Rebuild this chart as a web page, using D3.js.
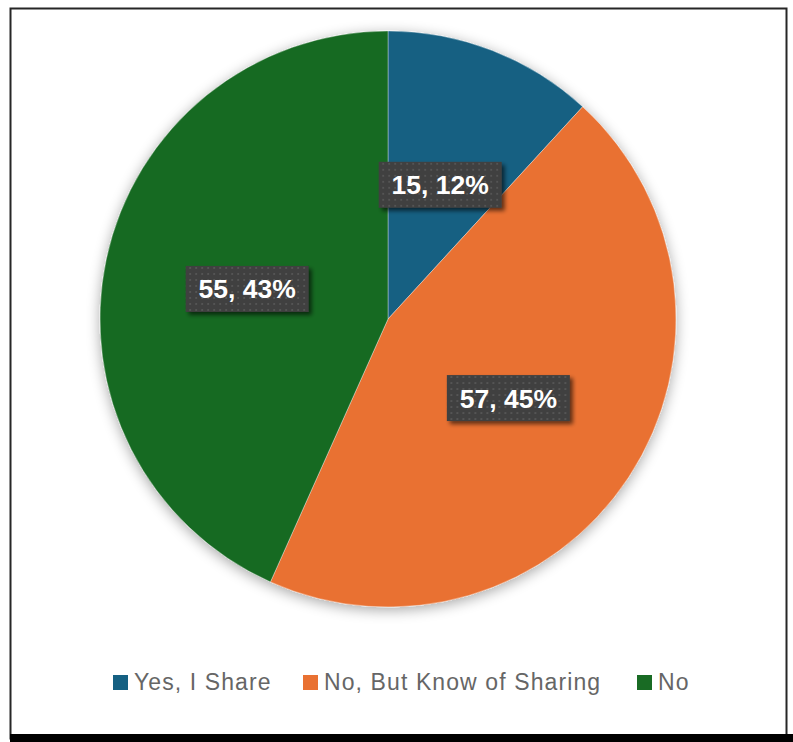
<!DOCTYPE html>
<html><head><meta charset="utf-8">
<script src="https://cdn.jsdelivr.net/npm/d3@7"></script>
<style>html,body{margin:0;padding:0;background:#fff;}svg{display:block;}</style>
</head><body>
<script>
const categories = ["Yes, I Share", "No, But Know of Sharing", "No"];
const values = [15, 57, 55];
const colors = ["#156082", "#E97132", "#196B24"];

const W = 793, H = 742;
const svg = d3.select("body").append("svg").attr("width", W).attr("height", H);
const defs = svg.append("defs");

const pieShadow = defs.append("filter").attr("id","pieShadow").attr("x","-20%").attr("y","-20%").attr("width","140%").attr("height","140%");
pieShadow.append("feGaussianBlur").attr("in","SourceAlpha").attr("stdDeviation",7).attr("result","b");
pieShadow.append("feOffset").attr("in","b").attr("dx",0).attr("dy",3).attr("result","o");
pieShadow.append("feComponentTransfer").attr("in","o").attr("result","o2").append("feFuncA").attr("type","linear").attr("slope",0.35);
const pm = pieShadow.append("feMerge");
pm.append("feMergeNode").attr("in","o2");
pm.append("feMergeNode").attr("in","SourceGraphic");

const boxShadow = defs.append("filter").attr("id","boxShadow").attr("x","-20%").attr("y","-30%").attr("width","150%").attr("height","170%");
boxShadow.append("feGaussianBlur").attr("in","SourceAlpha").attr("stdDeviation",2).attr("result","b");
boxShadow.append("feOffset").attr("in","b").attr("dx",3).attr("dy",3).attr("result","o");
boxShadow.append("feComponentTransfer").attr("in","o").attr("result","o2").append("feFuncA").attr("type","linear").attr("slope",0.6);
const bm = boxShadow.append("feMerge");
bm.append("feMergeNode").attr("in","o2");
bm.append("feMergeNode").attr("in","SourceGraphic");

const pat = defs.append("pattern").attr("id","dots").attr("patternUnits","userSpaceOnUse").attr("width",6).attr("height",6);
pat.append("rect").attr("width",6).attr("height",6).attr("fill","#3f3f3f");
pat.append("rect").attr("x",2).attr("y",2).attr("width",2).attr("height",2).attr("fill","#545454");

// frame
svg.append("rect").attr("x",0).attr("y",0).attr("width",W).attr("height",H).attr("fill","#fff");
svg.append("rect").attr("x",10.5).attr("y",8.5).attr("width",776).attr("height",730).attr("fill","none").attr("stroke","#262626").attr("stroke-width",2);
svg.append("rect").attr("x",10).attr("y",734).attr("width",W-10).attr("height",8).attr("fill","#000");

const cx = 388, cy = 319, R = 288;
const pie = d3.pie().sort(null).value(d => d)(values);
const arc = d3.arc().innerRadius(0).outerRadius(R);
const g = svg.append("g").attr("transform", `translate(${cx},${cy})`);
const gp = g.append("g").attr("filter","url(#pieShadow)");
gp.selectAll("path").data(pie).join("path")
  .attr("d", arc).attr("fill", (d,i) => colors[i])
  .attr("stroke","#ffffff").attr("stroke-opacity",0.35).attr("stroke-width",1);

const total = d3.sum(values);
const labelArc = d3.arc().innerRadius(R*0.5).outerRadius(R*0.5);
const lab = g.selectAll("g.lab").data(pie).join("g").attr("class","lab")
  .attr("transform", d => { const c = labelArc.centroid(d); return `translate(${c[0]},${c[1]})`; });
const bw = 123, bh = 46;
lab.append("rect").attr("x",-bw/2).attr("y",-bh/2).attr("width",bw).attr("height",bh)
  .attr("fill","url(#dots)").attr("filter","url(#boxShadow)");
lab.append("text").attr("text-anchor","middle").attr("dy","0.36em")
  .attr("fill","#fff").attr("font-family","Liberation Sans, Arial, sans-serif")
  .attr("font-weight","bold").attr("font-size",26.5)
  .text(d => `${d.data}, ${Math.round(d.data/total*100)}%`);

// legend
const legX = [113, 303, 637];
const leg = svg.append("g");
categories.forEach((c,i) => {
  leg.append("rect").attr("x",legX[i]).attr("y",675).attr("width",15).attr("height",15).attr("fill",colors[i]);
  leg.append("text").attr("x",legX[i]+21).attr("y",690)
    .attr("fill","#666666").attr("font-family","Liberation Sans, Arial, sans-serif").attr("font-size",23)
    .attr("letter-spacing",1.1)
    .text(c);
});
</script>
</body></html>
